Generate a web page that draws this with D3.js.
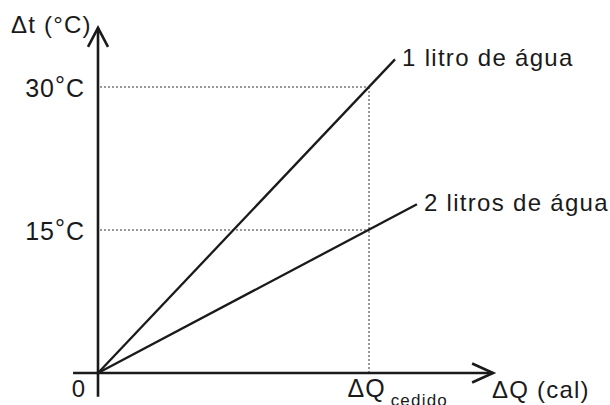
<!DOCTYPE html>
<html>
<head>
<meta charset="utf-8">
<title>Δt x ΔQ</title>
<script src="https://cdn.jsdelivr.net/npm/d3@7"></script>
<style>
  body { margin: 0; background: #fff; }
  svg text { font-family: "Liberation Sans", Arial, Helvetica, sans-serif; fill: #1a1a1a; }
</style>
</head>
<body>
<script>
// data (ΔQ in units of ΔQ cedido, Δt in °C)
var seriesNames = ['1 litro de água', '2 litros de água']
var lineQ = [[0, 1.096], [0, 1.177]]
var lineT = [[0, 32.9], [0, 17.7]]
var yTicks = [15, 30]
var yTickLabels = ['15', '30']
var xTicks = [1]
var xTickLabels = ['ΔQ']
var xTickSub = ['cedido']
var xAxisExtent = [-0.092, 1.458]
var yAxisExtent = [-2.5, 36.2]

var w = 610, h = 405
var svg = d3.select('body').append('svg')
    .attr('width', w)
    .attr('height', h)

var x = d3.scaleLinear().domain([0, 1]).range([98, 369])
var y = d3.scaleLinear().domain([0, 30]).range([373, 87])

// dotted guides
yTicks.forEach(function (t) {
    svg.append('line')
        .attr('x1', x(0) + 2).attr('x2', x(xTicks[0]))
        .attr('y1', y(t)).attr('y2', y(t))
        .attr('stroke', '#333').attr('stroke-width', 1)
        .attr('stroke-dasharray', '2,2')
})
svg.append('line')
    .attr('x1', x(xTicks[0])).attr('x2', x(xTicks[0]))
    .attr('y1', y(30)).attr('y2', y(0))
    .attr('stroke', '#333').attr('stroke-width', 1)
    .attr('stroke-dasharray', '2,2')

// axis lines with open arrow heads
var axisColor = '#1a1a1a'
svg.append('line')
    .attr('x1', x(0)).attr('x2', x(0))
    .attr('y1', y(yAxisExtent[0])).attr('y2', y(yAxisExtent[1]))
    .attr('stroke', axisColor).attr('stroke-width', 2.6)
svg.append('line')
    .attr('x1', x(xAxisExtent[0])).attr('x2', x(xAxisExtent[1]))
    .attr('y1', y(0)).attr('y2', y(0))
    .attr('stroke', axisColor).attr('stroke-width', 2.6)

var ty = y(yAxisExtent[1]), tx = x(xAxisExtent[1])
svg.append('path')
    .attr('d', 'M' + (x(0) - 10) + ',' + (ty + 19) + 'L' + x(0) + ',' + ty + 'L' + (x(0) + 10) + ',' + (ty + 19))
    .attr('fill', 'none').attr('stroke', axisColor).attr('stroke-width', 2.6)
svg.append('path')
    .attr('d', 'M' + (tx - 21) + ',' + (y(0) - 9.5) + 'L' + tx + ',' + y(0) + 'L' + (tx - 21) + ',' + (y(0) + 9.5))
    .attr('fill', 'none').attr('stroke', axisColor).attr('stroke-width', 2.6)

// series lines
var line = d3.line()
    .x(function (d) { return x(d[0]) })
    .y(function (d) { return y(d[1]) })
seriesNames.forEach(function (name, i) {
    var pts = lineQ[i].map(function (q, j) { return [q, lineT[i][j]] })
    svg.append('path')
        .datum(pts)
        .attr('d', line)
        .attr('fill', 'none')
        .attr('stroke', '#1a1a1a')
        .attr('stroke-width', 2.3)
    var end = pts[pts.length - 1]
    svg.append('text')
        .attr('x', x(end[0]) + 7)
        .attr('y', y(end[1]) + 7)
        .attr('font-size', 24)
        .attr('letter-spacing', 1.3)
        .text(name)
})

// y tick labels
var yAxis = d3.axisLeft(y).tickValues(yTicks).tickSize(0).tickPadding(13)
    .tickFormat(function () { return '' })
var gy = svg.append('g').attr('transform', 'translate(' + x(0) + ',0)').call(yAxis)
gy.select('.domain').remove()
gy.attr('font-family', null).attr('font-size', null)
gy.selectAll('.tick text').each(function (d, i) {
    var t = d3.select(this)
        .attr('font-size', 25)
        .attr('letter-spacing', 1)
        .attr('dy', '0.38em')
    t.append('tspan').text(yTickLabels[i])
    t.append('tspan').attr('dy', -3).text('°')
    t.append('tspan').attr('dy', 3).text('C')
})

// x tick label
var xAxis = d3.axisBottom(x).tickValues(xTicks).tickSize(0)
    .tickFormat(function () { return '' })
var gx = svg.append('g').attr('transform', 'translate(0,' + y(0) + ')').call(xAxis)
gx.select('.domain').remove()
gx.attr('font-family', null).attr('font-size', null)
gx.selectAll('.tick text').each(function (d, i) {
    var t = d3.select(this)
        .attr('text-anchor', 'start')
        .attr('x', -22)
        .attr('y', 24)
        .attr('dy', 0)
        .attr('font-size', 25)
        .attr('letter-spacing', 1)
    t.append('tspan').text(xTickLabels[i])
    t.append('tspan').attr('dx', 5).attr('dy', 9)
        .attr('font-size', 17).attr('letter-spacing', 1.2)
        .text(xTickSub[i])
})

// origin label
svg.append('text')
    .attr('x', x(0) - 13)
    .attr('y', y(0) + 24)
    .attr('text-anchor', 'end')
    .attr('font-size', 24)
    .text('0')

// axis titles
svg.append('text')
    .attr('x', 11)
    .attr('y', 33)
    .attr('font-size', 24)
    .attr('letter-spacing', 1.2)
    .text('Δt (°C)')
svg.append('text')
    .attr('x', tx - 1)
    .attr('y', y(0) + 25)
    .attr('font-size', 24)
    .attr('letter-spacing', 1.2)
    .text('ΔQ (cal)')
</script>
</body>
</html>
